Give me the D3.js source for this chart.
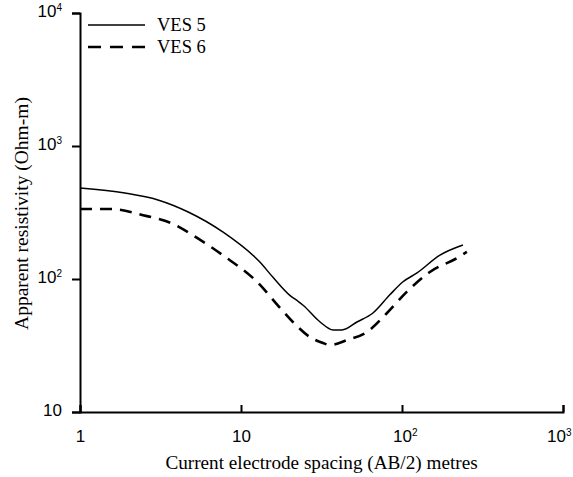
<!DOCTYPE html>
<html>
<head>
<meta charset="utf-8">
<script src="https://cdn.jsdelivr.net/npm/d3@7/dist/d3.min.js"></script>
<style>
  html, body { margin: 0; padding: 0; background: #fff; }
  svg { display: block; font-family: "Liberation Serif", "Times New Roman", serif; }
</style>
</head>
<body>
<svg id="chart" width="573" height="477"></svg>
<script>
// Sounding curves: apparent resistivity (Ohm-m) against half electrode spacing AB/2 (m)
const ves5Spacing     = [1, 1.9, 3.05, 4.7, 7.7, 13.1, 15.8, 20.2, 22.6, 24.3, 31, 37.3, 42.4, 52.5, 66, 84, 101, 124, 172, 239];
const ves5Resistivity = [483, 443, 393, 319, 226, 134, 103, 75, 68, 63.5, 47.5, 41.4, 41.4, 47.5, 55.5, 76, 95, 111, 151, 180];

const ves6Spacing     = [1, 1.54, 2.43, 3.9, 5, 7.7, 12.6, 17.5, 21, 26.8, 32.3, 35.7, 45.5, 60.6, 80.7, 107, 149, 220, 253];
const ves6Resistivity = [336, 336, 303, 255, 214, 151, 95, 60.5, 47.5, 36.6, 33, 31.9, 34.7, 40, 55.5, 80, 113, 144, 160];

const seriesNames = ["VES 5", "VES 6"];

const xTicks = [1, 10, 100, 1000];
const xTickLabels = ["1", "10", "10^2", "10^3"];
const yTicks = [10, 100, 1000, 10000];
const yTickLabels = ["10", "10^2", "10^3", "10^4"];

const xTitle = "Current electrode spacing (AB/2) metres";
const yTitle = "Apparent resistivity (Ohm-m)";

const width = 573, height = 477;
const svg = d3.select("#chart");
const plotLeft = 80, plotRight = 563, plotTop = 13, plotBottom = 412;

const x = d3.scaleLog().domain([1, 1000]).range([plotLeft, plotRight]);
const y = d3.scaleLog().domain([10, 10000]).range([plotBottom, plotTop]);

// writes "10^n" as a base with a raised exponent
function powerLabel(textSel, label, baseSize, supSize, supRise) {
  const parts = label.split("^");
  textSel.text(null);
  textSel.append("tspan").attr("font-size", baseSize).text(parts[0]);
  if (parts.length > 1) {
    textSel.append("tspan")
      .attr("font-size", supSize)
      .attr("dy", -supRise)
      .text(parts[1]);
  }
}

// x axis: ticks point up into the plot
const gx = svg.append("g")
  .attr("transform", `translate(0,${plotBottom})`)
  .call(d3.axisBottom(x).tickValues(xTicks).tickSize(-7));
gx.select(".domain").attr("stroke", "#000").attr("stroke-width", 2);
gx.selectAll(".tick line").attr("stroke", "#000").attr("stroke-width", 2);
gx.selectAll(".tick text").each(function (d, i) {
  const t = d3.select(this)
    .attr("y", 30).attr("dy", null)
    .attr("fill", "#000")
    .attr("text-anchor", "start");
  powerLabel(t, xTickLabels[i], 17, 10, 6);
  // centre the base digits on the tick, exponent hangs to the right,
  // but keep the whole label inside the page
  const baseW = this.firstChild.getComputedTextLength();
  const fullW = this.getComputedTextLength();
  let x0 = -baseW / 2;
  const maxRight = width - 2 - x(d);
  if (x0 + fullW > maxRight) x0 = maxRight - fullW;
  t.attr("x", x0);
});

// y axis: ticks point outward
const gy = svg.append("g")
  .attr("transform", `translate(${plotLeft},0)`)
  .call(d3.axisLeft(y).tickValues(yTicks).tickSize(8));
gy.select(".domain").attr("stroke", "#000").attr("stroke-width", 2);
gy.selectAll(".tick line").attr("stroke", "#000").attr("stroke-width", 2);
gy.selectAll(".tick text").each(function (d, i) {
  const t = d3.select(this)
    .attr("x", -18).attr("dy", "0.35em")
    .attr("fill", "#000")
    .attr("text-anchor", "end");
  powerLabel(t, yTickLabels[i], 17, 10, 6);
});

// axis titles
svg.append("text")
  .attr("x", (plotLeft + plotRight) / 2).attr("y", 469)
  .attr("text-anchor", "middle")
  .attr("font-size", 19.2)
  .text(xTitle);

svg.append("text")
  .attr("transform", `translate(28,${(plotTop + plotBottom) / 2 + 1}) rotate(-90)`)
  .attr("text-anchor", "middle")
  .attr("font-size", 19.5)
  .text(yTitle);

// curves
const line = d3.line()
  .x(d => x(d[0]))
  .y(d => y(d[1]))
  .curve(d3.curveMonotoneX);

const ves5 = d3.zip(ves5Spacing, ves5Resistivity);
const ves6 = d3.zip(ves6Spacing, ves6Resistivity);

svg.append("path")
  .datum(ves5)
  .attr("d", line)
  .attr("fill", "none")
  .attr("stroke", "#000")
  .attr("stroke-width", 1.5);

svg.append("path")
  .datum(ves6)
  .attr("d", line)
  .attr("fill", "none")
  .attr("stroke", "#000")
  .attr("stroke-width", 2.6)
  .attr("stroke-dasharray", "12,8");

// legend
const legend = svg.append("g");
const legendRows = [
  { name: seriesNames[0], y: 25, dash: null, width: 1.5, x2: 145 },
  { name: seriesNames[1], y: 47, dash: "13,9", width: 2.6, x2: 154 }
];
legendRows.forEach(r => {
  legend.append("line")
    .attr("x1", 88).attr("x2", r.x2)
    .attr("y1", r.y).attr("y2", r.y)
    .attr("stroke", "#000")
    .attr("stroke-width", r.width)
    .attr("stroke-dasharray", r.dash);
  legend.append("text")
    .attr("x", 157).attr("y", r.y + 6)
    .attr("font-size", 18.5)
    .text(r.name);
});
</script>
</body>
</html>
